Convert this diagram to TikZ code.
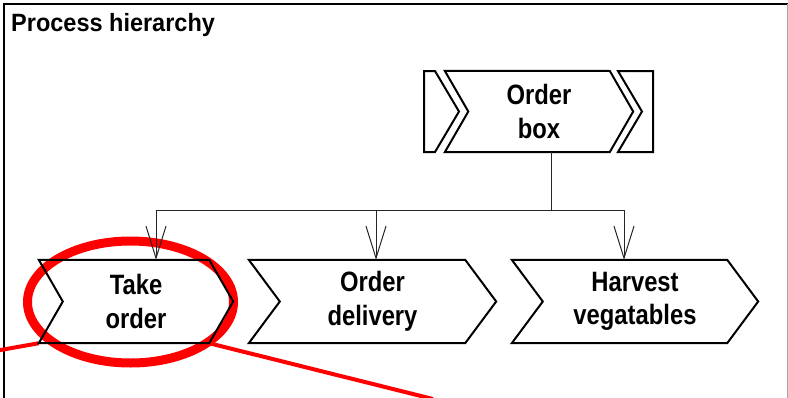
\documentclass[tikz,border=0pt]{standalone}
\usepackage{fontspec}
\setmainfont{Liberation Sans}[FakeStretch=0.85]
\newfontfamily\titlefont{Liberation Sans}[FakeStretch=0.94]
\usetikzlibrary{arrows.meta,calc}
\newcommand\drawchev[2]{%
  \draw[boxline] (#1.north west) -- ($(#1.north east)+(-#2,0)$) -- (#1.east)
    -- ($(#1.south east)+(-#2,0)$) -- (#1.south west) -- ($(#1.west)+(#2,0)$) -- cycle;}
\tikzset{
  boxline/.style={draw=black, line width=2pt, line join=miter},
  boxtext/.style={align=center, inner sep=0pt, font=\bfseries\fontsize{28}{33.5}\selectfont},
  conn/.style={draw=black!85, line width=1pt},
  arr/.style={conn, -{Straight Barb[length=32pt,width=20pt]}},
  callout/.style={draw=red, line width=4pt},
  ring/.style={draw=red, line width=9pt}
}
\begin{document}
\begin{tikzpicture}[x=1pt,y=1pt]
\useasboundingbox (0,0) rectangle (788,-397);
\clip (0,0) rectangle (788,-397);
% frame
\draw[line width=2pt] (4,-402) -- (4,-4) -- (790,-4);
\draw[black!35, line width=1pt] (787,-4) -- (787,-402);
\node[anchor=base west, inner sep=0pt, font=\titlefont\bfseries\fontsize{25}{30}\selectfont] (title) at (11,-31.5) {Process hierarchy};
% nodes
\node[boxtext, minimum width=194pt, minimum height=83pt] (take) at (136,-301.5) {Take\\order};
\node[boxtext, minimum width=247pt, minimum height=83pt] (deliv) at (372.5,-301.5) {Order\\delivery};
\node[boxtext, minimum width=246pt, minimum height=83pt] (harv) at (635,-301.5) {Harvest\\vegatables};
\node[boxtext, minimum width=188pt, minimum height=81pt] (ob) at (539,-111.5) {Order\\box};
% red highlight
\draw[ring] (130.5,-302) ellipse [x radius=103pt, y radius=61pt];
\coordinate (calloutL) at (-5,-351);
\coordinate (calloutR) at (433,-399);
\draw[callout] (take.south west) -- (calloutL);
\draw[callout] ($(take.south east)+(-24,0)$) -- (calloutR);
% shapes
\drawchev{take}{24}
\drawchev{deliv}{31}
\drawchev{harv}{31}
\drawchev{ob}{23.5}
\draw[boxline] (424,-71) -- (435,-71) -- (459,-111.5) -- (435,-152) -- (424,-152) -- cycle;
\draw[boxline] (618,-71) -- (653,-71) -- (653,-152) -- (618,-152) -- (642,-111.5) -- cycle;
% connectors
\coordinate (hub) at (551,-210);
\draw[conn] ($(ob.south)+(12,0)$) -- (hub);
\draw[arr] (hub) -| ($(take.north)+(20,0)$);
\draw[arr] (hub) -| ($(deliv.north)+(3.5,0)$);
\draw[arr] (hub) -| ($(harv.north)+(-11,0)$);
\end{tikzpicture}
\end{document}
